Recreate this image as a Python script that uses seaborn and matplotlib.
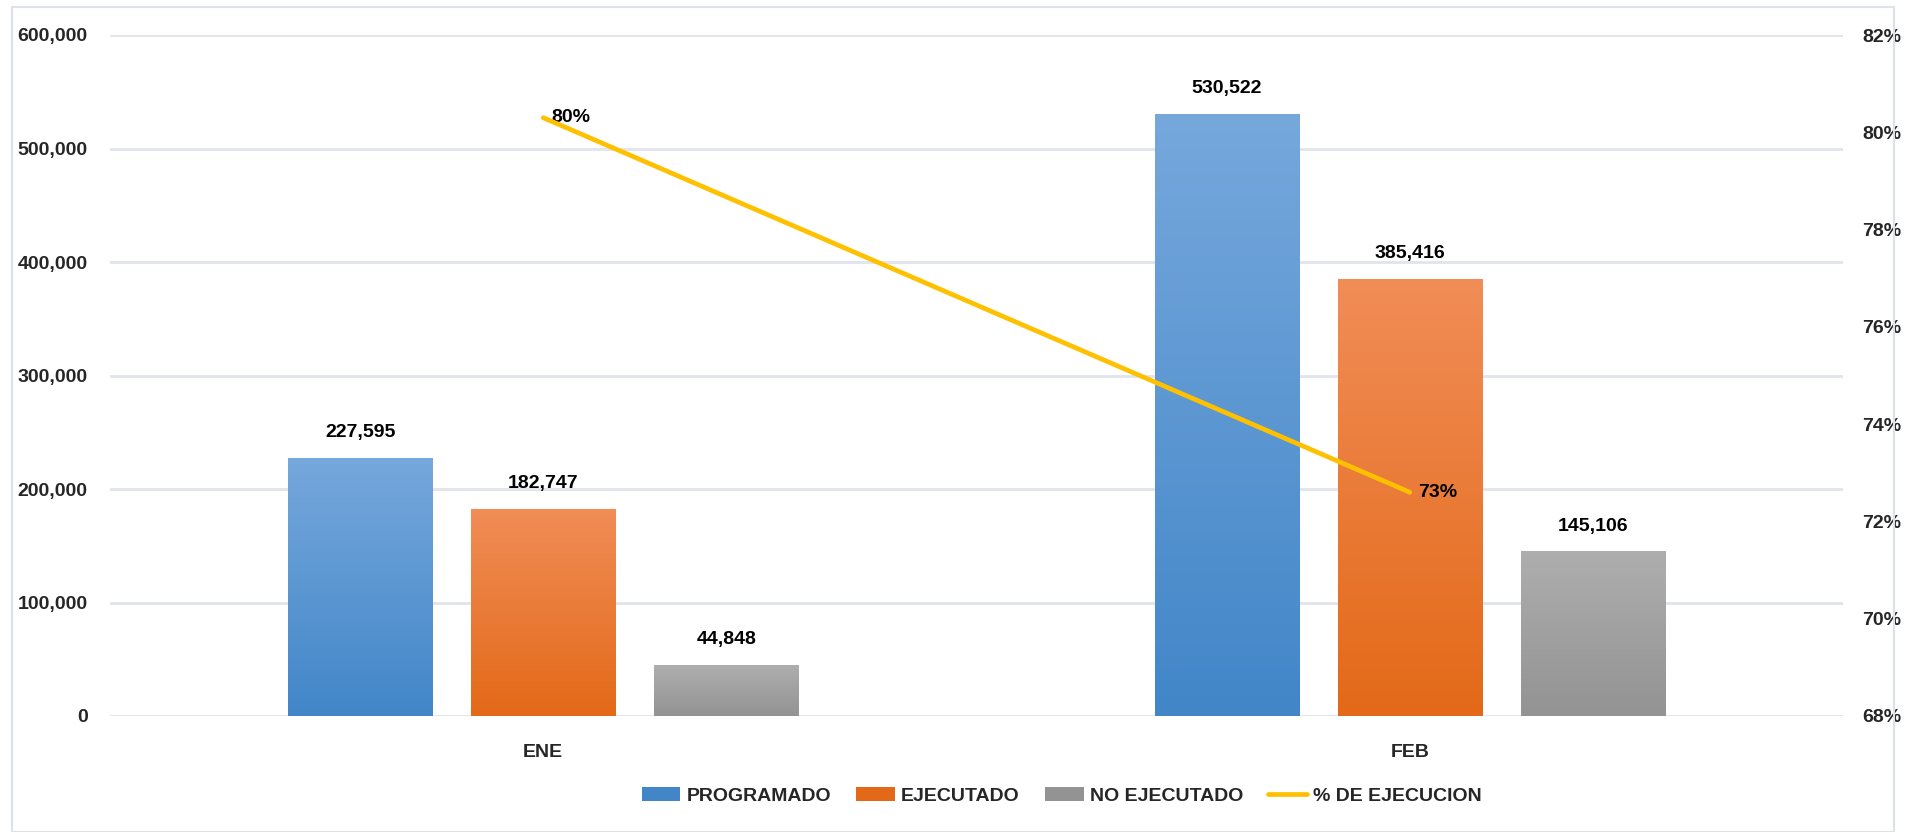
import numpy as np
import pandas as pd
import matplotlib
matplotlib.use("Agg")
import matplotlib.pyplot as plt
import matplotlib.colors as mcolors
from matplotlib.patches import Patch, Rectangle
from matplotlib.lines import Line2D
from matplotlib.ticker import FuncFormatter
import seaborn as sns

# Chart data
meses = ["ENE", "FEB"]
series = ["PROGRAMADO", "EJECUTADO", "NO EJECUTADO"]
programado = [227595, 530522]
ejecutado = [182747, 385416]
no_ejecutado = [44848, 145106]
pct_ejecucion = [0.803, 0.726]
linea_label = "% DE EJECUCION"

# colours: (top, bottom) of the vertical gradient
gradientes = {
    "PROGRAMADO": ("#76A8DC", "#4286C8"),
    "EJECUTADO": ("#F18D57", "#E36918"),
    "NO EJECUTADO": ("#AEAEAE", "#939393"),
}
color_linea = "#FFC000"
color_grid = "#E1E4EB"


def build_frame():
    rows = []
    for name, vals in zip(series, [programado, ejecutado, no_ejecutado]):
        for mes, v in zip(meses, vals):
            rows.append({"mes": mes, "serie": name, "valor": v})
    return pd.DataFrame(rows)


def gradient_fill(ax, patch, top, bottom):
    x, y = patch.get_x(), patch.get_y()
    w, h = patch.get_width(), patch.get_height()
    c_top = np.array(mcolors.to_rgb(top))
    c_bot = np.array(mcolors.to_rgb(bottom))
    t = np.linspace(0, 1, 256)[:, None]
    img = c_bot + (c_top - c_bot) * t
    img = img[:, None, :]
    im = ax.imshow(img, extent=[x, x + w, y, y + h], origin="lower",
                   aspect="auto", zorder=2, interpolation="bilinear")
    im.set_clip_path(patch)
    patch.set_facecolor("none")


def main():
    sns.set_theme(style="white")
    plt.rcParams["font.family"] = ["Liberation Sans Narrow", "Liberation Sans", "DejaVu Sans"]
    plt.rcParams["font.weight"] = "bold"

    df = build_frame()
    fig = plt.figure(figsize=(19.06, 8.32), dpi=100)
    ax = fig.add_axes([110 / 1906, 1 - 716 / 832, (1843 - 110) / 1906, (716 - 35) / 832])

    palette = {k: v[1] for k, v in gradientes.items()}
    sns.barplot(data=df, x="mes", y="valor", hue="serie", hue_order=series,
                palette=palette, width=0.634, gap=0.213, ax=ax, legend=False,
                edgecolor="none", linewidth=0, zorder=2)

    ax.set_ylim(0, 600000)
    ax.set_yticks(np.arange(0, 600001, 100000))
    ax.yaxis.set_major_formatter(FuncFormatter(lambda v, p: f"{int(v):,}"))
    ax.set_xlim(-0.5, 1.5)
    ax.grid(axis="y", color=color_grid, linewidth=2, zorder=0)
    ax.set_axisbelow(True)
    for s in ax.spines.values():
        s.set_visible(False)
    ax.tick_params(axis="both", length=0, labelsize=14, pad=16)
    ax.tick_params(axis="x", pad=20)
    ax.set_xlabel("")
    ax.set_ylabel("")
    for lab in ax.get_xticklabels() + ax.get_yticklabels():
        lab.set_fontweight("bold")

    # gradient bars + value labels
    for container, name in zip(ax.containers, series):
        top, bottom = gradientes[name]
        for patch in container:
            gradient_fill(ax, patch, top, bottom)
        ax.bar_label(container, labels=[f"{int(v):,}" for v in container.datavalues],
                     padding=12, fontsize=14, fontweight="bold", color="black")
    ax.set_xlim(-0.5, 1.5)
    ax.set_ylim(0, 600000)

    # secondary axis with execution percentage
    ax2 = ax.twinx()
    sns.lineplot(x=np.arange(len(meses)), y=pct_ejecucion, ax=ax2,
                 color=color_linea, linewidth=3.4, solid_capstyle="round", zorder=5)
    ax2.set_ylim(0.68, 0.82)
    ax2.set_yticks(np.arange(0.68, 0.8201, 0.02))
    ax2.yaxis.set_major_formatter(FuncFormatter(lambda v, p: f"{v * 100:.0f}%"))
    ax2.grid(False)
    for s in ax2.spines.values():
        s.set_visible(False)
    ax2.tick_params(axis="y", length=0, labelsize=14, pad=14)
    for lab in ax2.get_yticklabels():
        lab.set_fontweight("bold")
    for i, v in enumerate(pct_ejecucion):
        ax2.annotate(f"{v * 100:.0f}%", (i, v), xytext=(6, 0), textcoords="offset points",
                     ha="left", va="center", fontsize=14, fontweight="bold", color="black")

    # legend
    handles = [Patch(facecolor=palette[s], edgecolor="none") for s in series]
    handles.append(Line2D([0], [0], color=color_linea, linewidth=3.4))
    fig.legend(handles, series + [linea_label], loc="center", bbox_to_anchor=(0.557, 1 - 796 / 832),
               ncol=4, frameon=False, prop={"weight": "bold", "size": 14},
               handlelength=2.0, handleheight=0.7, handletextpad=0.3, columnspacing=1.3)

    # light frame around the chart
    fig.patches.append(Rectangle((12 / 1906, 0), 1 - 24 / 1906, 1 - 7 / 832,
                                 transform=fig.transFigure, fill=False,
                                 edgecolor="#DDE1E8", linewidth=1.5))

    fig.savefig("out.png", dpi=100)


if __name__ == "__main__":
    main()
